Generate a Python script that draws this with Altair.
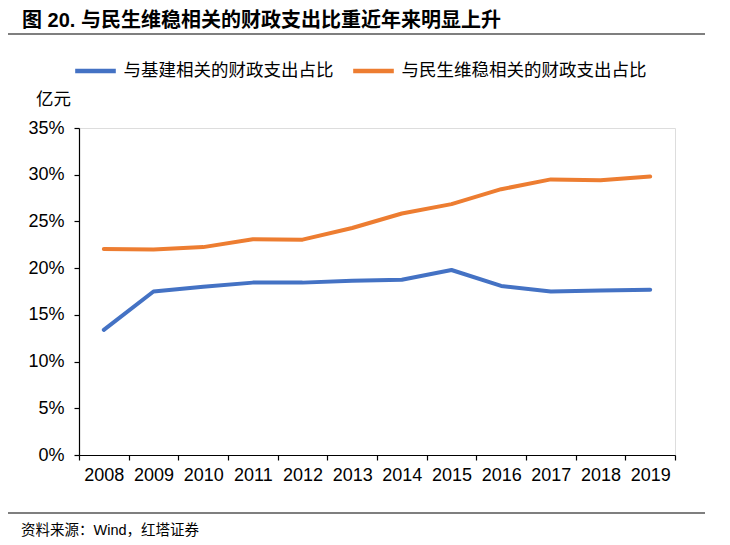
import altair as alt
import pandas as pd

years = [2008, 2009, 2010, 2011, 2012, 2013, 2014, 2015, 2016, 2017, 2018, 2019]
infra = [13.4, 17.5, 18.0, 18.45, 18.45, 18.65, 18.75, 19.8, 18.1, 17.5, 17.6, 17.7]
livelihood = [22.05, 22.0, 22.25, 23.1, 23.05, 24.3, 25.85, 26.85, 28.45, 29.5, 29.4, 29.8]
series_names = ["与基建相关的财政支出占比", "与民生维稳相关的财政支出占比"]
series_colors = ["#4472C4", "#ED7D31"]
y_ticks = [0, 5, 10, 15, 20, 25, 30, 35]
x_ticks = [2007.5, 2008.5, 2009.5, 2010.5, 2011.5, 2012.5, 2013.5,
           2014.5, 2015.5, 2016.5, 2017.5, 2018.5, 2019.5]

title_text = "图 20. 与民生维稳相关的财政支出比重近年来明显上升"
unit_text = "亿元"
source_text = "资料来源：Wind，红塔证券"

W, H = 596, 327

rows = []
for name, vals in zip(series_names, [infra, livelihood]):
    for yr, v in zip(years, vals):
        rows.append({"year": yr, "value": v, "series": name})
df = pd.DataFrame(rows)

LATIN = "Liberation Sans, Arial, Noto Sans CJK SC"
CJK = "Noto Sans CJK SC"

lines = alt.Chart(df).mark_line(strokeWidth=4, strokeCap="round", strokeJoin="round").encode(
    x=alt.X("year:Q",
            scale=alt.Scale(domain=[2007.5, 2019.5], nice=False, zero=False),
            axis=alt.Axis(values=x_ticks, title=None, grid=False,
                          labelExpr="datum.value < 2019 ? format(datum.value + 0.5, 'd') : ''",
                          labelOffset=W / 24, labelFlush=False, labelOverlap=False,
                          labelBound=False,
                          labelFont=LATIN, labelFontSize=18, labelColor="#000",
                          labelPadding=6, tickSize=5, tickColor="#000",
                          domainColor="#000", domainWidth=1.2, tickWidth=1.2)),
    y=alt.Y("value:Q",
            scale=alt.Scale(domain=[0, 35], nice=False),
            axis=alt.Axis(values=y_ticks, title=None, grid=False,
                          labelExpr="datum.value + '%'",
                          labelFont=LATIN, labelFontSize=18, labelColor="#000",
                          labelPadding=10, tickSize=5, tickColor="#000",
                          domainColor="#000", domainWidth=1.2, tickWidth=1.2)),
    color=alt.Color("series:N",
                    scale=alt.Scale(domain=series_names, range=series_colors),
                    sort=series_names,
                    legend=alt.Legend(orient="none", legendX=-6.5, legendY=-80,
                                      direction="horizontal", title=None,
                                      symbolType="stroke", symbolSize=1650,
                                      symbolStrokeWidth=4.5,
                                      labelFont=CJK, labelFontSize=17.5,
                                      labelColor="#000", labelOffset=5,
                                      labelLimit=400,
                                      columnPadding=10, padding=0)),
)

def text_layer(txt, x, y, size, weight="normal", font=CJK):
    return alt.Chart(pd.DataFrame({"t": [txt]})).mark_text(
        align="left", baseline="middle", fontSize=size, fontWeight=weight,
        font=font, color="#000", limit=700
    ).encode(text="t:N", x=alt.value(x), y=alt.value(y))

title = text_layer(title_text, -57, -107, 20, "bold", "Liberation Sans, Noto Sans CJK SC")
unit = text_layer(unit_text, -43, -28, 17.5)
source = text_layer(source_text, -58, 403, 14.5, "normal", "Liberation Sans, Noto Sans CJK SC")

rule_df = pd.DataFrame({"k": [0]})
top_rule = alt.Chart(rule_df).mark_rule(color="#000", strokeWidth=1.2).encode(
    x=alt.value(-72), x2=alt.value(626), y=alt.value(-94))
bottom_rule = alt.Chart(rule_df).mark_rule(color="#000", strokeWidth=1.2).encode(
    x=alt.value(-72), x2=alt.value(626), y=alt.value(385))

chart = alt.layer(lines, title, unit, source, top_rule, bottom_rule).properties(
    width=W, height=H,
    autosize=alt.AutoSizeParams(type="none"),
    padding={"left": 71, "top": 120, "right": 47, "bottom": 82},
).configure_view(stroke=None).configure(background="white")

chart.save("out.html", embed_options={"renderer": "svg", "actions": False})
